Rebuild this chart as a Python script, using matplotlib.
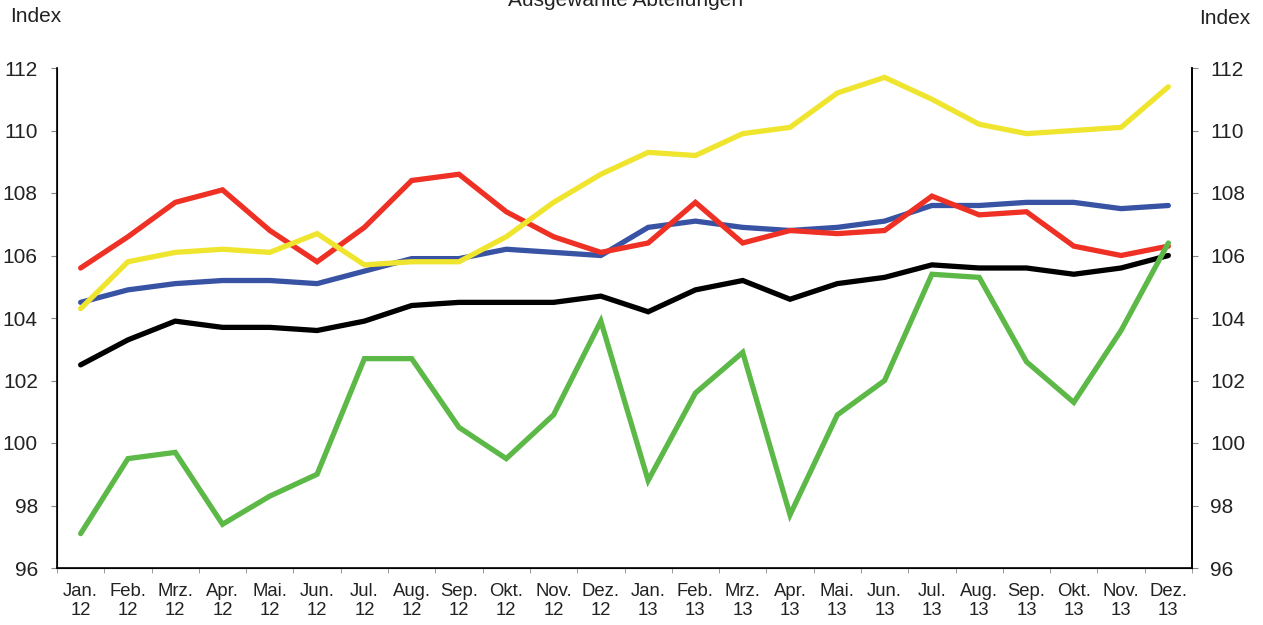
import matplotlib.pyplot as plt
from matplotlib.ticker import FixedLocator

plt.rcParams['font.family'] = ['Liberation Sans', 'DejaVu Sans']

months = ["Jan.", "Feb.", "Mrz.", "Apr.", "Mai.", "Jun.",
          "Jul.", "Aug.", "Sep.", "Okt.", "Nov.", "Dez."]
tick_labels = [f"{m}\n{y}" for y in ("12", "13") for m in months]

black = [102.5, 103.3, 103.9, 103.7, 103.7, 103.6, 103.9, 104.4, 104.5, 104.5, 104.5, 104.7,
         104.2, 104.9, 105.2, 104.6, 105.1, 105.3, 105.7, 105.6, 105.6, 105.4, 105.6, 106.0]
blue = [104.5, 104.9, 105.1, 105.2, 105.2, 105.1, 105.5, 105.9, 105.9, 106.2, 106.1, 106.0,
        106.9, 107.1, 106.9, 106.8, 106.9, 107.1, 107.6, 107.6, 107.7, 107.7, 107.5, 107.6]
red = [105.6, 106.6, 107.7, 108.1, 106.8, 105.8, 106.9, 108.4, 108.6, 107.4, 106.6, 106.1,
       106.4, 107.7, 106.4, 106.8, 106.7, 106.8, 107.9, 107.3, 107.4, 106.3, 106.0, 106.3]
yellow = [104.3, 105.8, 106.1, 106.2, 106.1, 106.7, 105.7, 105.8, 105.8, 106.6, 107.7, 108.6,
          109.3, 109.2, 109.9, 110.1, 111.2, 111.7, 111.0, 110.2, 109.9, 110.0, 110.1, 111.4]
green = [97.1, 99.5, 99.7, 97.4, 98.3, 99.0, 102.7, 102.7, 100.5, 99.5, 100.9, 103.9,
         98.8, 101.6, 102.9, 97.7, 100.9, 102.0, 105.4, 105.3, 102.6, 101.3, 103.6, 106.4]

series = [(black, '#000000'), (blue, '#3953a4'), (red, '#ee3124'),
          (yellow, '#f0e52e'), (green, '#5cb947')]

fig = plt.figure(figsize=(12.63, 6.25), dpi=100)
ax = fig.add_axes([57 / 1263, 57 / 625, 1135 / 1263, 500 / 625])

x = list(range(len(tick_labels)))
for vals, col in series:
    ax.plot(x, vals, color=col, linewidth=3.8, solid_capstyle='round', solid_joinstyle='miter')

ax.set_xlim(-0.5, len(x) - 0.5)
ax.set_ylim(96, 112)
ax.set_yticks(range(96, 113, 2))
ax.set_xticks(x)
ax.set_xticklabels(tick_labels, fontsize=13.3, linespacing=1.12, color='#222222')
ax.xaxis.set_minor_locator(FixedLocator([i - 0.5 for i in range(len(x) + 1)]))
ax.tick_params(axis='x', which='major', length=0, pad=11)
ax.tick_params(axis='x', which='minor', length=3.6, color='#888888', direction='out')
ax.tick_params(axis='y', labelsize=15, labelcolor='#222222', length=4.3, color='#888888', pad=9.5)
ax.spines['top'].set_visible(False)
for s in ('left', 'right', 'bottom'):
    ax.spines[s].set_linewidth(1.2)

ax2 = ax.twinx()
ax2.set_ylim(96, 112)
ax2.set_yticks(range(96, 113, 2))
ax2.tick_params(axis='y', labelsize=15, labelcolor='#222222', length=4.3, color='#888888', pad=8.6)
ax2.spines['top'].set_visible(False)
ax2.spines['right'].set_linewidth(1.2)

fig.text(10 / 1263, 1 - 17 / 625, "Index", fontsize=15, va='center', ha='left', color='#222222')
fig.text(1250 / 1263, 1 - 18 / 625, "Index", fontsize=15, va='center', ha='right', color='#222222')
fig.text(626 / 1263, 1 - 1 / 625, "Ausgewählte Abteilungen", fontsize=15, va='center',
         ha='center', color='#222222')

fig.savefig("out.png", dpi=100)
